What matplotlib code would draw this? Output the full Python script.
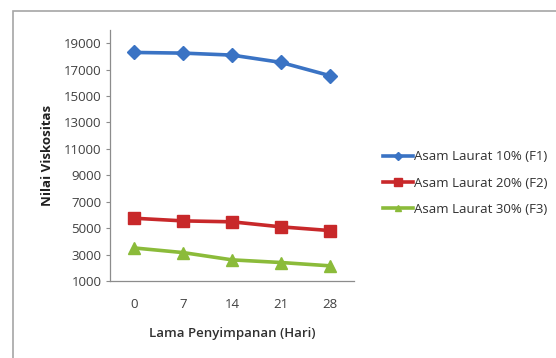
import matplotlib.pyplot as plt
from matplotlib.patches import Rectangle

# Viscosity over storage time for three lauric acid levels
days = ['0', '7', '14', '21', '28']
f1_10 = [18300, 18250, 18100, 17550, 16550]
f2_20 = [5750, 5550, 5480, 5100, 4820]
f3_30 = [3500, 3150, 2600, 2400, 2150]
y_ticks = [1000, 3000, 5000, 7000, 9000, 11000, 13000, 15000, 17000, 19000]

plt.rcParams['font.family'] = ['Open Sans', 'DejaVu Sans']

fig = plt.figure(figsize=(5.56, 3.58), dpi=100)
# chart border (left and top visible, runs off the right/bottom)
fig.patches.append(Rectangle((13 / 556, -0.1), 1.0, 1.1 - 11 / 358,
                             transform=fig.transFigure, fill=False,
                             edgecolor='#a6a6a6', linewidth=1.2))

ax = fig.add_axes([110 / 556, 1 - 281 / 358, 244 / 556, 251 / 358])
x = range(len(days))
ax.plot(x, f1_10, color='#3a73c4', lw=2.6, marker='D', ms=7,
        label='Asam Laurat 10% (F1)')
ax.plot(x, f2_20, color='#c8282a', lw=2.6, marker='s', ms=9,
        label='Asam Laurat 20% (F2)')
ax.plot(x, f3_30, color='#8bbb3a', lw=2.6, marker='^', ms=8,
        label='Asam Laurat 30% (F3)')

ax.set_xlim(-0.5, len(days) - 0.5)
ax.set_ylim(1000, 20000)
ax.set_xticks(list(x))
ax.set_xticklabels(days)
ax.set_yticks(y_ticks)
ax.tick_params(axis='x', length=0, pad=12, labelsize=9.5, colors='#404040')
ax.tick_params(axis='y', length=3, width=0.8, color='#8c8c8c', pad=3,
               labelsize=9.5, labelcolor='#404040')
for s in ['top', 'right']:
    ax.spines[s].set_visible(False)
for s in ['left', 'bottom']:
    ax.spines[s].set_color('#8c8c8c')
    ax.spines[s].set_linewidth(0.9)

ax.set_xlabel('Lama Penyimpanan (Hari)', fontsize=9.5, fontweight='semibold',
              color='#303030', labelpad=12)
ax.set_ylabel('Nilai Viskositas', fontsize=9.5, fontweight='bold',
              color='#202020', labelpad=7)

ax.legend(loc='center left', bbox_to_anchor=(1.09, 0.39), frameon=False,
          fontsize=9.5, handlelength=2.3, handletextpad=0.1, labelspacing=1.0,
          borderpad=0, markerscale=0.6, labelcolor='#303030')

fig.savefig('out.png', dpi=100, facecolor='white')
